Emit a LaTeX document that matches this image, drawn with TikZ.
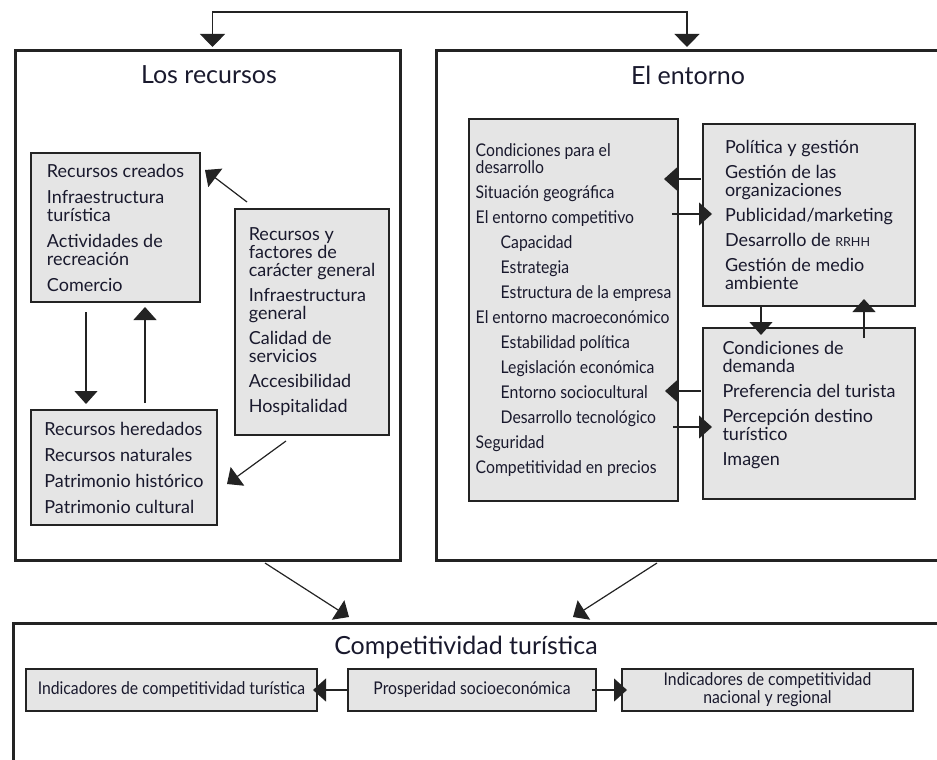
\documentclass[tikz,border=0pt]{standalone}
\usepackage{fontspec}
\setmainfont{Lato}
\newfontfamily\condfont[FakeStretch=0.9]{Lato}
\usetikzlibrary{calc}
\usetikzlibrary{positioning}
\usetikzlibrary{arrows.meta}
\definecolor{boxfill}{RGB}{229,229,229}
\definecolor{boxline}{RGB}{35,35,35}
\definecolor{txtcol}{RGB}{25,25,45}
\tikzset{every picture/.style={/utils/exec={\fontsize{18}{18}\selectfont}}}
\newcommand\rrhh{{\fontsize{12.5}{12}\selectfont RRHH}}
\newcommand\subit{\hspace*{25pt}}

\begin{document}
\begin{tikzpicture}[x=1pt, y=-1pt,
    bigbox/.style={draw=boxline, line width=3pt, anchor=north west, inner sep=0pt, outer sep=0pt},
    grpbox/.style={draw=boxline, line width=1.3pt, fill=boxfill, anchor=north west, inner sep=0pt, outer sep=0pt, align=left, text=txtcol},
    condbox/.style={grpbox, font=\condfont\fontsize{17.5}{17}\selectfont},
    outbox/.style={grpbox, align=center, anchor=west, minimum height=42pt, font=\condfont\fontsize{17.5}{18}\selectfont},
    heading/.style={text=txtcol, font=\fontsize{25}{25}\selectfont},
    link/.style={draw=boxline, line width=1.2pt, -{Triangle[length=13pt,width=23pt]}},
  ]
  \useasboundingbox (0,0) rectangle (937,760);
  \clip (0,0) rectangle (937,760);

  \node[bigbox, minimum width=385pt, minimum height=509pt] (recursos) at (15,51) {};
  \node[bigbox, minimum width=530pt, minimum height=509pt] (entorno) at (436,51) {};
  \node[bigbox, minimum width=960pt, minimum height=170pt] (competitividad) at (13,623) {};

  \node[heading] (tRecursos) at (209,75) {Los recursos};
  \node[heading] (tEntorno) at (688,75) {El entorno};
  \node[heading] (tCompet) at (466,647) {Competitividad turística};

  \node[grpbox, minimum width=169pt, minimum height=149pt] (creados) at (31,153)
    {Recursos creados\\[8pt]Infraestructura\\turística\\[8pt]Actividades de\\recreación\\[8pt]Comercio};
  \node[grpbox, minimum width=154pt, minimum height=226pt] (factores) at (235,209)
    {Recursos y\\factores de\\carácter general\\[7pt]Infraestructura\\general\\[7pt]Calidad de\\servicios\\[7pt]Accesibilidad\\[7pt]Hospitalidad};
  \node[grpbox, minimum width=186pt, minimum height=115pt] (heredados) at (31,410)
    {Recursos heredados\\[8pt]Recursos naturales\\[8pt]Patrimonio histórico\\[8pt]Patrimonio cultural};

  \node[condbox, minimum width=209pt, minimum height=382pt] (condiciones) at (469,119)
    {Condiciones para el\\desarrollo\\[8pt]Situación geográfica\\[8pt]El entorno competitivo\\[8pt]
     \subit Capacidad\\[8pt]\subit Estrategia\\[8pt]\subit Estructura de la empresa\\[8pt]
     El entorno macroeconómico\\[8pt]\subit Estabilidad política\\[8pt]\subit Legislación económica\\[8pt]
     \subit Entorno sociocultural\\[8pt]\subit Desarrollo tecnológico\\[8pt]Seguridad\\[8pt]Competitividad en precios};
  \node[grpbox, minimum width=212pt, minimum height=182pt] (politica) at (703,124)
    {Política y gestión\\[7pt]Gestión de las\\organizaciones\\[7pt]Publicidad/marketing\\[7pt]Desarrollo de \rrhh\\[7pt]Gestión de medio\\ambiente};
  \node[grpbox, minimum width=212pt, minimum height=171pt] (demanda) at (703,328)
    {Condiciones de\\demanda\\[7pt]Preferencia del turista\\[7pt]Percepción destino\\turístico\\[7pt]Imagen\\[2pt]\mbox{}};

  \node[outbox, minimum width=291pt] (indTur) at (26,690) {Indicadores de competitividad turística};
  \node[outbox, minimum width=248pt, right=31pt of indTur] (prosperidad) {Prosperidad socioeconómica};
  \node[outbox, minimum width=291pt, right=26pt of prosperidad] (indNac) {Indicadores de competitividad\\nacional y regional};

  \coordinate (top) at (450,12);
  \draw[link, {Triangle[length=13pt,width=25pt]}-{Triangle[length=13pt,width=25pt]}, shorten <=4pt, shorten >=4pt]
    ([xshift=5pt]recursos.north) |- (top) -| ($(entorno.north west)+(251,0)$);

  \draw[link] ($(factores.north west)+(12,-7)$) -- ($(creados.north east)+(5,17)$);
  \draw[link] ($(factores.south west)+(51,6)$) -- ($(heredados.north east)+(10,74)$);
  \draw[link] ($(creados.south west)+(55,10)$) -- ($(heredados.north west)+(55,-6)$);
  \draw[link] ($(heredados.north west)+(114,-7)$) -- ($(creados.south west)+(114,5)$);

  \draw[link] ($(politica.north west)+(-2,55)$) -- ($(condiciones.north east)+(-14,60)$);
  \draw[link] ($(condiciones.north east)+(-6,95)$) -- ($(politica.north west)+(9,90)$);
  \draw[link] ($(politica.south west)+(58,0)$) -- ($(demanda.north west)+(58,7)$);
  \draw[link] ($(demanda.north west)+(161,10)$) -- ($(politica.south west)+(161,-7)$);
  \draw[link] ($(demanda.north west)+(-2,63)$) -- ($(condiciones.north east)+(-13,272)$);
  \draw[link] ($(condiciones.north east)+(-5,308)$) -- ($(demanda.north west)+(9,99)$);

  \draw[link] ($(recursos.south west)+(250,3)$) -- ($(competitividad.north west)+(336,-6)$);
  \draw[link] ($(entorno.south west)+(221,3)$) -- ($(competitividad.north west)+(560,-6)$);

  \draw[link] (prosperidad.west) -- ($(indTur.east)+(-4,0)$);
  \draw[link] ($(prosperidad.east)+(-4,0)$) -- ($(indNac.west)+(5,0)$);
\end{tikzpicture}
\end{document}
